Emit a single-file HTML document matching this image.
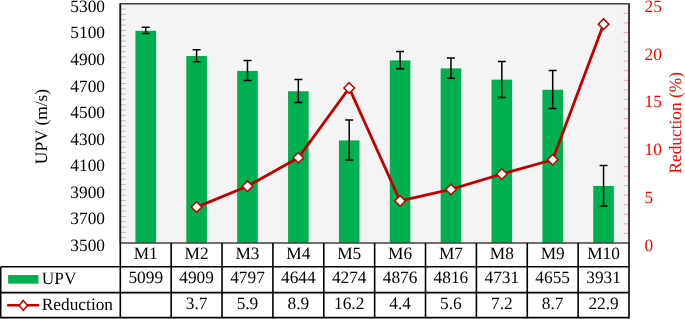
<!DOCTYPE html>
<html><head><meta charset="utf-8"><style>
html,body{margin:0;padding:0;background:#fff;width:685px;height:319px;overflow:hidden}
svg{display:block;will-change:transform}
text{text-rendering:geometricPrecision;font-family:"Liberation Serif",serif;font-size:17.33px;fill:#000}
</style></head><body>
<svg width="685" height="319" viewBox="0 0 685 319">
<rect x="120.3" y="3.75" width="508.7" height="239.25" fill="#f4f4f4"/>
<line x1="120.3" y1="237.68" x2="125.8" y2="237.68" stroke="#bfbfbf" stroke-width="1"/>
<line x1="120.3" y1="232.37" x2="125.8" y2="232.37" stroke="#bfbfbf" stroke-width="1"/>
<line x1="120.3" y1="227.05" x2="125.8" y2="227.05" stroke="#bfbfbf" stroke-width="1"/>
<line x1="120.3" y1="221.73" x2="125.8" y2="221.73" stroke="#bfbfbf" stroke-width="1"/>
<line x1="120.3" y1="216.42" x2="125.8" y2="216.42" stroke="#bfbfbf" stroke-width="1"/>
<line x1="120.3" y1="211.10" x2="125.8" y2="211.10" stroke="#bfbfbf" stroke-width="1"/>
<line x1="120.3" y1="205.78" x2="125.8" y2="205.78" stroke="#bfbfbf" stroke-width="1"/>
<line x1="120.3" y1="200.47" x2="125.8" y2="200.47" stroke="#bfbfbf" stroke-width="1"/>
<line x1="120.3" y1="195.15" x2="125.8" y2="195.15" stroke="#bfbfbf" stroke-width="1"/>
<line x1="120.3" y1="189.83" x2="125.8" y2="189.83" stroke="#bfbfbf" stroke-width="1"/>
<line x1="120.3" y1="184.52" x2="125.8" y2="184.52" stroke="#bfbfbf" stroke-width="1"/>
<line x1="120.3" y1="179.20" x2="125.8" y2="179.20" stroke="#bfbfbf" stroke-width="1"/>
<line x1="120.3" y1="173.88" x2="125.8" y2="173.88" stroke="#bfbfbf" stroke-width="1"/>
<line x1="120.3" y1="168.57" x2="125.8" y2="168.57" stroke="#bfbfbf" stroke-width="1"/>
<line x1="120.3" y1="163.25" x2="125.8" y2="163.25" stroke="#bfbfbf" stroke-width="1"/>
<line x1="120.3" y1="157.93" x2="125.8" y2="157.93" stroke="#bfbfbf" stroke-width="1"/>
<line x1="120.3" y1="152.62" x2="125.8" y2="152.62" stroke="#bfbfbf" stroke-width="1"/>
<line x1="120.3" y1="147.30" x2="125.8" y2="147.30" stroke="#bfbfbf" stroke-width="1"/>
<line x1="120.3" y1="141.98" x2="125.8" y2="141.98" stroke="#bfbfbf" stroke-width="1"/>
<line x1="120.3" y1="136.67" x2="125.8" y2="136.67" stroke="#bfbfbf" stroke-width="1"/>
<line x1="120.3" y1="131.35" x2="125.8" y2="131.35" stroke="#bfbfbf" stroke-width="1"/>
<line x1="120.3" y1="126.03" x2="125.8" y2="126.03" stroke="#bfbfbf" stroke-width="1"/>
<line x1="120.3" y1="120.72" x2="125.8" y2="120.72" stroke="#bfbfbf" stroke-width="1"/>
<line x1="120.3" y1="115.40" x2="125.8" y2="115.40" stroke="#bfbfbf" stroke-width="1"/>
<line x1="120.3" y1="110.08" x2="125.8" y2="110.08" stroke="#bfbfbf" stroke-width="1"/>
<line x1="120.3" y1="104.77" x2="125.8" y2="104.77" stroke="#bfbfbf" stroke-width="1"/>
<line x1="120.3" y1="99.45" x2="125.8" y2="99.45" stroke="#bfbfbf" stroke-width="1"/>
<line x1="120.3" y1="94.13" x2="125.8" y2="94.13" stroke="#bfbfbf" stroke-width="1"/>
<line x1="120.3" y1="88.82" x2="125.8" y2="88.82" stroke="#bfbfbf" stroke-width="1"/>
<line x1="120.3" y1="83.50" x2="125.8" y2="83.50" stroke="#bfbfbf" stroke-width="1"/>
<line x1="120.3" y1="78.18" x2="125.8" y2="78.18" stroke="#bfbfbf" stroke-width="1"/>
<line x1="120.3" y1="72.87" x2="125.8" y2="72.87" stroke="#bfbfbf" stroke-width="1"/>
<line x1="120.3" y1="67.55" x2="125.8" y2="67.55" stroke="#bfbfbf" stroke-width="1"/>
<line x1="120.3" y1="62.23" x2="125.8" y2="62.23" stroke="#bfbfbf" stroke-width="1"/>
<line x1="120.3" y1="56.92" x2="125.8" y2="56.92" stroke="#bfbfbf" stroke-width="1"/>
<line x1="120.3" y1="51.60" x2="125.8" y2="51.60" stroke="#bfbfbf" stroke-width="1"/>
<line x1="120.3" y1="46.28" x2="125.8" y2="46.28" stroke="#bfbfbf" stroke-width="1"/>
<line x1="120.3" y1="40.97" x2="125.8" y2="40.97" stroke="#bfbfbf" stroke-width="1"/>
<line x1="120.3" y1="35.65" x2="125.8" y2="35.65" stroke="#bfbfbf" stroke-width="1"/>
<line x1="120.3" y1="30.33" x2="125.8" y2="30.33" stroke="#bfbfbf" stroke-width="1"/>
<line x1="120.3" y1="25.02" x2="125.8" y2="25.02" stroke="#bfbfbf" stroke-width="1"/>
<line x1="120.3" y1="19.70" x2="125.8" y2="19.70" stroke="#bfbfbf" stroke-width="1"/>
<line x1="120.3" y1="14.38" x2="125.8" y2="14.38" stroke="#bfbfbf" stroke-width="1"/>
<line x1="120.3" y1="9.07" x2="125.8" y2="9.07" stroke="#bfbfbf" stroke-width="1"/>
<line x1="623.5" y1="233.43" x2="629.0" y2="233.43" stroke="#f0a8a8" stroke-width="1"/>
<line x1="623.5" y1="223.86" x2="629.0" y2="223.86" stroke="#f0a8a8" stroke-width="1"/>
<line x1="623.5" y1="214.29" x2="629.0" y2="214.29" stroke="#f0a8a8" stroke-width="1"/>
<line x1="623.5" y1="204.72" x2="629.0" y2="204.72" stroke="#f0a8a8" stroke-width="1"/>
<line x1="623.5" y1="195.15" x2="629.0" y2="195.15" stroke="#f0a8a8" stroke-width="1"/>
<line x1="623.5" y1="185.58" x2="629.0" y2="185.58" stroke="#f0a8a8" stroke-width="1"/>
<line x1="623.5" y1="176.01" x2="629.0" y2="176.01" stroke="#f0a8a8" stroke-width="1"/>
<line x1="623.5" y1="166.44" x2="629.0" y2="166.44" stroke="#f0a8a8" stroke-width="1"/>
<line x1="623.5" y1="156.87" x2="629.0" y2="156.87" stroke="#f0a8a8" stroke-width="1"/>
<line x1="623.5" y1="147.30" x2="629.0" y2="147.30" stroke="#f0a8a8" stroke-width="1"/>
<line x1="623.5" y1="137.73" x2="629.0" y2="137.73" stroke="#f0a8a8" stroke-width="1"/>
<line x1="623.5" y1="128.16" x2="629.0" y2="128.16" stroke="#f0a8a8" stroke-width="1"/>
<line x1="623.5" y1="118.59" x2="629.0" y2="118.59" stroke="#f0a8a8" stroke-width="1"/>
<line x1="623.5" y1="109.02" x2="629.0" y2="109.02" stroke="#f0a8a8" stroke-width="1"/>
<line x1="623.5" y1="99.45" x2="629.0" y2="99.45" stroke="#f0a8a8" stroke-width="1"/>
<line x1="623.5" y1="89.88" x2="629.0" y2="89.88" stroke="#f0a8a8" stroke-width="1"/>
<line x1="623.5" y1="80.31" x2="629.0" y2="80.31" stroke="#f0a8a8" stroke-width="1"/>
<line x1="623.5" y1="70.74" x2="629.0" y2="70.74" stroke="#f0a8a8" stroke-width="1"/>
<line x1="623.5" y1="61.17" x2="629.0" y2="61.17" stroke="#f0a8a8" stroke-width="1"/>
<line x1="623.5" y1="51.60" x2="629.0" y2="51.60" stroke="#f0a8a8" stroke-width="1"/>
<line x1="623.5" y1="42.03" x2="629.0" y2="42.03" stroke="#f0a8a8" stroke-width="1"/>
<line x1="623.5" y1="32.46" x2="629.0" y2="32.46" stroke="#f0a8a8" stroke-width="1"/>
<line x1="623.5" y1="22.89" x2="629.0" y2="22.89" stroke="#f0a8a8" stroke-width="1"/>
<line x1="623.5" y1="13.32" x2="629.0" y2="13.32" stroke="#f0a8a8" stroke-width="1"/>
<rect x="135.43" y="30.77" width="20.6" height="212.23" fill="#00b050"/>
<rect x="186.30" y="56.02" width="20.6" height="186.98" fill="#00b050"/>
<rect x="237.17" y="70.91" width="20.6" height="172.09" fill="#00b050"/>
<rect x="288.04" y="91.24" width="20.6" height="151.76" fill="#00b050"/>
<rect x="338.91" y="140.42" width="20.6" height="102.58" fill="#00b050"/>
<rect x="389.78" y="60.41" width="20.6" height="182.59" fill="#00b050"/>
<rect x="440.65" y="68.38" width="20.6" height="174.62" fill="#00b050"/>
<rect x="491.52" y="79.68" width="20.6" height="163.32" fill="#00b050"/>
<rect x="542.39" y="89.78" width="20.6" height="153.22" fill="#00b050"/>
<rect x="593.26" y="186.01" width="20.6" height="56.99" fill="#00b050"/>
<path d="M141.73 27.37H149.73M145.73 27.37V33.57M141.73 33.57H149.73" stroke="#000" stroke-width="1.5" fill="none"/>
<path d="M192.60 49.72H200.60M196.60 49.72V61.72M192.60 61.72H200.60" stroke="#000" stroke-width="1.5" fill="none"/>
<path d="M243.47 60.61H251.47M247.47 60.61V80.61M243.47 80.61H251.47" stroke="#000" stroke-width="1.5" fill="none"/>
<path d="M294.34 79.44H302.34M298.34 79.44V102.44M294.34 102.44H302.34" stroke="#000" stroke-width="1.5" fill="none"/>
<path d="M345.21 120.12H353.21M349.21 120.12V160.12M345.21 160.12H353.21" stroke="#000" stroke-width="1.5" fill="none"/>
<path d="M396.08 51.51H404.08M400.08 51.51V68.71M396.08 68.71H404.08" stroke="#000" stroke-width="1.5" fill="none"/>
<path d="M446.95 57.88H454.95M450.95 57.88V78.28M446.95 78.28H454.95" stroke="#000" stroke-width="1.5" fill="none"/>
<path d="M497.82 61.38H505.82M501.82 61.38V97.38M497.82 97.38H505.82" stroke="#000" stroke-width="1.5" fill="none"/>
<path d="M548.69 70.48H556.69M552.69 70.48V108.48M548.69 108.48H556.69" stroke="#000" stroke-width="1.5" fill="none"/>
<path d="M599.56 165.41H607.56M603.56 165.41V206.01M599.56 206.01H607.56" stroke="#000" stroke-width="1.5" fill="none"/>
<path d="M196.60 207.09 L247.47 186.19 L298.34 157.83 L349.21 87.97 L400.08 200.89 L450.95 189.41 L501.82 174.00 L552.69 159.74 L603.56 24.15" stroke="#c00000" stroke-width="2.8" fill="none" stroke-linejoin="round"/>
<path d="M196.60 201.79L201.91 207.09L196.60 212.39L191.30 207.09Z" fill="#fff" stroke="#c00000" stroke-width="1.5"/>
<path d="M247.47 180.89L252.78 186.19L247.47 191.49L242.17 186.19Z" fill="#fff" stroke="#c00000" stroke-width="1.5"/>
<path d="M298.34 152.53L303.64 157.83L298.34 163.13L293.04 157.83Z" fill="#fff" stroke="#c00000" stroke-width="1.5"/>
<path d="M349.21 82.67L354.51 87.97L349.21 93.27L343.91 87.97Z" fill="#fff" stroke="#c00000" stroke-width="1.5"/>
<path d="M400.08 195.59L405.38 200.89L400.08 206.19L394.78 200.89Z" fill="#fff" stroke="#c00000" stroke-width="1.5"/>
<path d="M450.95 184.11L456.25 189.41L450.95 194.71L445.65 189.41Z" fill="#fff" stroke="#c00000" stroke-width="1.5"/>
<path d="M501.82 168.70L507.12 174.00L501.82 179.30L496.52 174.00Z" fill="#fff" stroke="#c00000" stroke-width="1.5"/>
<path d="M552.69 154.44L557.99 159.74L552.69 165.04L547.39 159.74Z" fill="#fff" stroke="#c00000" stroke-width="1.5"/>
<path d="M603.56 18.85L608.86 24.15L603.56 29.45L598.26 24.15Z" fill="#fff" stroke="#c00000" stroke-width="1.5"/>
<path d="M120.3 243.0V3.75H629.0V243.0Z" stroke="#404040" stroke-width="1.6" fill="none"/>
<line x1="629.0" y1="3.75" x2="629.0" y2="243.0" stroke="#4a3434" stroke-width="1.6"/>
<line x1="120.3" y1="3.75" x2="120.3" y2="243.0" stroke="#1a1a1a" stroke-width="1.6"/>
<text x="105" y="251.00" text-anchor="end">3500</text>
<text x="105" y="224.42" text-anchor="end">3700</text>
<text x="105" y="197.83" text-anchor="end">3900</text>
<text x="105" y="171.25" text-anchor="end">4100</text>
<text x="105" y="144.67" text-anchor="end">4300</text>
<text x="105" y="118.08" text-anchor="end">4500</text>
<text x="105" y="91.50" text-anchor="end">4700</text>
<text x="105" y="64.92" text-anchor="end">4900</text>
<text x="105" y="38.33" text-anchor="end">5100</text>
<text x="105" y="12.05" text-anchor="end">5300</text>
<text x="644.5" y="250.90" style="fill:#ff0000">0</text>
<text x="644.5" y="203.05" style="fill:#ff0000">5</text>
<text x="644.5" y="155.20" style="fill:#ff0000">10</text>
<text x="644.5" y="107.35" style="fill:#ff0000">15</text>
<text x="644.5" y="59.50" style="fill:#ff0000">20</text>
<text x="644.5" y="11.65" style="fill:#ff0000">25</text>
<text transform="translate(47.2,126.5) rotate(-90)" text-anchor="middle">UPV (m/s)</text>
<text transform="translate(681,122.8) rotate(-90)" text-anchor="middle" style="fill:#ff0000">Reduction (%)</text>
<path d="M0.7 266.8H629.0M0.7 292.6H629.0M0.7 317.6H629.0" stroke="#000" stroke-width="1.6" fill="none"/>
<path d="M0.7 266.8V318.40000000000003" stroke="#000" stroke-width="1.6"/>
<line x1="120.30" y1="243.0" x2="120.30" y2="318.40000000000003" stroke="#000" stroke-width="1.6"/>
<line x1="171.17" y1="243.0" x2="171.17" y2="318.40000000000003" stroke="#000" stroke-width="1.6"/>
<line x1="222.04" y1="243.0" x2="222.04" y2="318.40000000000003" stroke="#000" stroke-width="1.6"/>
<line x1="272.91" y1="243.0" x2="272.91" y2="318.40000000000003" stroke="#000" stroke-width="1.6"/>
<line x1="323.78" y1="243.0" x2="323.78" y2="318.40000000000003" stroke="#000" stroke-width="1.6"/>
<line x1="374.65" y1="243.0" x2="374.65" y2="318.40000000000003" stroke="#000" stroke-width="1.6"/>
<line x1="425.52" y1="243.0" x2="425.52" y2="318.40000000000003" stroke="#000" stroke-width="1.6"/>
<line x1="476.39" y1="243.0" x2="476.39" y2="318.40000000000003" stroke="#000" stroke-width="1.6"/>
<line x1="527.26" y1="243.0" x2="527.26" y2="318.40000000000003" stroke="#000" stroke-width="1.6"/>
<line x1="578.13" y1="243.0" x2="578.13" y2="318.40000000000003" stroke="#000" stroke-width="1.6"/>
<line x1="629.00" y1="243.0" x2="629.00" y2="318.40000000000003" stroke="#000" stroke-width="1.6"/>
<text x="145.73" y="258.6" text-anchor="middle">M1</text>
<text x="145.73" y="282.7" text-anchor="middle">5099</text>
<text x="196.60" y="258.6" text-anchor="middle">M2</text>
<text x="196.60" y="282.7" text-anchor="middle">4909</text>
<text x="196.60" y="308.9" text-anchor="middle">3.7</text>
<text x="247.47" y="258.6" text-anchor="middle">M3</text>
<text x="247.47" y="282.7" text-anchor="middle">4797</text>
<text x="247.47" y="308.9" text-anchor="middle">5.9</text>
<text x="298.34" y="258.6" text-anchor="middle">M4</text>
<text x="298.34" y="282.7" text-anchor="middle">4644</text>
<text x="298.34" y="308.9" text-anchor="middle">8.9</text>
<text x="349.21" y="258.6" text-anchor="middle">M5</text>
<text x="349.21" y="282.7" text-anchor="middle">4274</text>
<text x="349.21" y="308.9" text-anchor="middle">16.2</text>
<text x="400.08" y="258.6" text-anchor="middle">M6</text>
<text x="400.08" y="282.7" text-anchor="middle">4876</text>
<text x="400.08" y="308.9" text-anchor="middle">4.4</text>
<text x="450.95" y="258.6" text-anchor="middle">M7</text>
<text x="450.95" y="282.7" text-anchor="middle">4816</text>
<text x="450.95" y="308.9" text-anchor="middle">5.6</text>
<text x="501.82" y="258.6" text-anchor="middle">M8</text>
<text x="501.82" y="282.7" text-anchor="middle">4731</text>
<text x="501.82" y="308.9" text-anchor="middle">7.2</text>
<text x="552.69" y="258.6" text-anchor="middle">M9</text>
<text x="552.69" y="282.7" text-anchor="middle">4655</text>
<text x="552.69" y="308.9" text-anchor="middle">8.7</text>
<text x="603.56" y="258.6" text-anchor="middle">M10</text>
<text x="603.56" y="282.7" text-anchor="middle">3931</text>
<text x="603.56" y="308.9" text-anchor="middle">22.9</text>
<rect x="8.1" y="275.0" width="30.3" height="8.7" fill="#00b050"/>
<text x="41.8" y="283.6">UPV</text>
<line x1="8.2" y1="305.3" x2="38.2" y2="305.3" stroke="#c00000" stroke-width="2.5" stroke-linecap="round"/>
<path d="M23.3 300.5L27.5 305.4L23.3 310.29999999999995L19.1 305.4Z" fill="#fff" stroke="#c00000" stroke-width="1.5"/>
<text x="41.8" y="309.8">Reduction</text>
</svg>
</body></html>
